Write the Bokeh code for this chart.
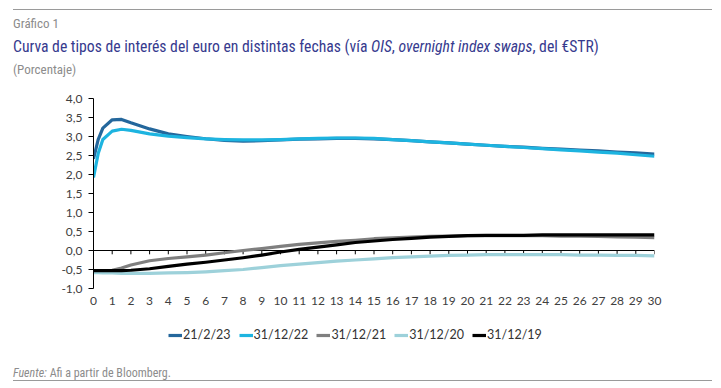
from bokeh.plotting import figure
from bokeh.models import Range1d, FixedTicker, Legend, LegendItem, ColumnDataSource, Div
from bokeh.layouts import column
from bokeh.embed import file_html
from bokeh.resources import INLINE

# ---------------- data ----------------
maturity = [0, 0.25, 0.5, 1, 1.5, 2, 3, 4, 5, 6, 7, 8, 9, 10, 11, 12, 13, 14, 15,
            16, 17, 18, 19, 20, 21, 22, 23, 24, 25, 26, 27, 28, 29, 30]

s_210223 = [2.41, 2.92, 3.22, 3.44, 3.45, 3.36, 3.20, 3.07, 3.00, 2.94, 2.90, 2.88, 2.89, 2.91,
            2.93, 2.94, 2.95, 2.95, 2.94, 2.92, 2.89, 2.86, 2.83, 2.80, 2.77, 2.74, 2.72, 2.69,
            2.67, 2.64, 2.62, 2.59, 2.57, 2.54]
s_311222 = [1.92, 2.55, 2.92, 3.14, 3.19, 3.16, 3.07, 3.01, 2.97, 2.94, 2.92, 2.91, 2.91, 2.92,
            2.94, 2.95, 2.96, 2.96, 2.95, 2.92, 2.89, 2.86, 2.83, 2.80, 2.77, 2.74, 2.71, 2.68,
            2.65, 2.62, 2.59, 2.56, 2.52, 2.48]
s_311221 = [-0.53, -0.53, -0.53, -0.52, -0.46, -0.38, -0.27, -0.21, -0.17, -0.12, -0.06, 0.00,
            0.05, 0.11, 0.16, 0.20, 0.24, 0.27, 0.31, 0.33, 0.35, 0.37, 0.38, 0.39, 0.39, 0.39,
            0.39, 0.39, 0.38, 0.38, 0.37, 0.36, 0.35, 0.34]
s_311220 = [-0.58, -0.58, -0.59, -0.59, -0.60, -0.60, -0.60, -0.59, -0.58, -0.56, -0.53, -0.50,
            -0.45, -0.40, -0.36, -0.32, -0.28, -0.25, -0.22, -0.19, -0.17, -0.15, -0.13, -0.12,
            -0.11, -0.11, -0.11, -0.11, -0.11, -0.12, -0.12, -0.13, -0.13, -0.14]
s_311219 = [-0.53, -0.53, -0.53, -0.53, -0.53, -0.52, -0.48, -0.42, -0.36, -0.31, -0.25, -0.19,
            -0.12, -0.04, 0.03, 0.09, 0.15, 0.21, 0.25, 0.29, 0.32, 0.35, 0.37, 0.39, 0.40, 0.40,
            0.40, 0.41, 0.41, 0.41, 0.41, 0.41, 0.41, 0.41]

series_names = ["21/2/23", "31/12/22", "31/12/21", "31/12/20", "31/12/19"]
series_values = [s_210223, s_311222, s_311221, s_311220, s_311219]
series_colors = ["#24679c", "#1db4e0", "#7f7f7f", "#9dd1da", "#000000"]

x_ticks = list(range(0, 31))
y_ticks = [-1.0, -0.5, 0.0, 0.5, 1.0, 1.5, 2.0, 2.5, 3.0, 3.5, 4.0]
y_labels = ["-1,0", "-0,5", "0,0", "0,5", "1,0", "1,5", "2,0", "2,5", "3,0", "3,5", "4,0"]

kicker = "Gráfico 1"
title_html = ("Curva de tipos de interés del euro en distintas fechas (vía <i>OIS</i>, "
              "<i>overnight index swaps</i>, del €STR)")
subtitle = "(Porcentaje)"
source_html = "<i>Fuente:</i> Afi a partir de Bloomberg."

# ---------------- header / footer ----------------
FONT = "'Liberation Sans Narrow', 'Arial Narrow', 'Roboto Condensed', Roboto, sans-serif"
W = 721
top_html = f"""
<div style="position:relative;width:{W}px;height:80px;font-family:{FONT};">
  <div style="position:absolute;left:13px;top:8.7px;width:699px;height:0;border-top:1.3px solid #9a9a9a;"></div>
  <div style="position:absolute;left:13px;top:17px;font-size:13px;line-height:14px;color:#8c8c8c;white-space:nowrap;">{kicker}</div>
  <div style="position:absolute;left:13px;top:38px;font-size:15.7px;line-height:17px;color:#363a8e;white-space:nowrap;">{title_html}</div>
  <div style="position:absolute;left:13px;top:63px;font-size:13px;line-height:14px;color:#8c8c8c;white-space:nowrap;">{subtitle}</div>
</div>"""
bottom_html = f"""
<div style="position:relative;width:{W}px;height:34px;font-family:{FONT};">
  <div style="position:absolute;left:13px;top:15px;font-size:12px;line-height:13px;color:#8c8c8c;white-space:nowrap;">{source_html}</div>
  <div style="position:absolute;left:13px;top:27.5px;width:699px;height:0;border-top:1.3px solid #9a9a9a;"></div>
</div>"""
top_div = Div(text=top_html, width=W, height=80, margin=0)
bottom_div = Div(text=bottom_html, width=W, height=34, margin=0)

# ---------------- main figure ----------------
p = figure(frame_width=561, frame_height=190, output_backend="svg", toolbar_location=None,
           x_range=Range1d(0, 30), y_range=Range1d(-1, 4),
           min_border_left=93, min_border_right=W - 654, min_border_top=18, min_border_bottom=30,
           margin=0)
p.outline_line_color = None
p.grid.visible = False

TEXT_COL = "#404040"

xa = p.xaxis[0]
xa.ticker = FixedTicker(ticks=x_ticks)
xa.axis_line_color = None
xa.major_tick_line_color = None
xa.minor_tick_line_color = None
xa.major_label_text_font = "Lato"
xa.major_label_text_font_size = "12px"
xa.major_label_text_color = TEXT_COL
xa.major_label_standoff = 2

ya = p.yaxis[0]
ya.ticker = FixedTicker(ticks=y_ticks)
ya.major_label_overrides = {t: l for t, l in zip(y_ticks, y_labels)}
ya.axis_line_color = "black"
ya.axis_line_width = 1
ya.major_tick_line_color = "black"
ya.major_tick_out = 5
ya.major_tick_in = 0
ya.minor_tick_line_color = None
ya.major_label_text_font = "Lato"
ya.major_label_text_font_size = "12px"
ya.major_label_text_color = TEXT_COL
ya.major_label_standoff = 6

# zero line with ticks
p.line(x=[x_ticks[0], x_ticks[-1]], y=[0, 0], line_color="black", line_width=1)
p.segment(x0=x_ticks, y0=[0] * len(x_ticks), x1=x_ticks, y1=[-0.1] * len(x_ticks),
          line_color="black", line_width=1)

for name, vals, col in zip(series_names, series_values, series_colors):
    src = ColumnDataSource(dict(x=maturity, y=vals))
    p.line("x", "y", source=src, line_color=col, line_width=3.2, line_join="round")

# ---------------- legend strip (own small figure, series kept out of its view) ----------------
lg = figure(width=W, height=34, output_backend="svg", toolbar_location=None,
            x_axis_type=None, y_axis_type=None, x_range=Range1d(0, 30), y_range=Range1d(10, 11),
            min_border=0, margin=0)
lg.outline_line_color = None
lg.grid.visible = False
items = []
for name, vals, col in zip(series_names, series_values, series_colors):
    r = lg.line(maturity, vals, line_color=col, line_width=3.2)
    items.append(LegendItem(label=name, renderers=[r]))
legend = Legend(items=items, orientation="horizontal", location=(75, 10),
                glyph_width=14, glyph_height=14, label_height=14, label_standoff=1,
                spacing=8, padding=0, margin=0, border_line_color=None,
                background_fill_alpha=0, label_text_font="Lato",
                label_text_font_size="12.5px", label_text_color="#333333")
lg.add_layout(legend, "center")

layout = column(top_div, p, lg, bottom_div, spacing=0)
open("out.html", "w").write(file_html(layout, INLINE))
